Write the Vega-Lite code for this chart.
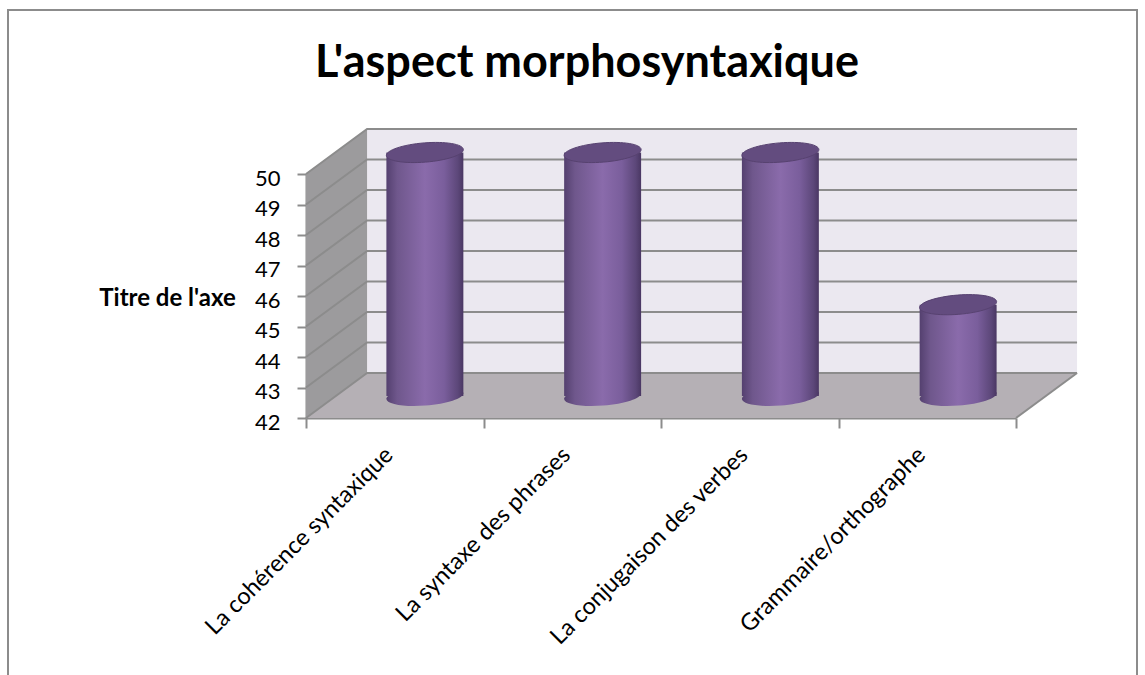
{
"$schema":"https://vega.github.io/schema/vega-lite/v6.json",
"width":710,"height":244,"autosize":"none",
"padding":{"left":306,"top":174,"right":129,"bottom":257},
"background":"white",
"config":{"view":{"stroke":null},"font":"Lato"},
"title":{"text":"L'aspect morphosyntaxique","font":"Lato","fontSize":45,"fontWeight":"bold","color":"#000000","anchor":"middle","dx":-74,"offset":-77},
"datasets":{
"scores":[
{"aspect":"La cohérence syntaxique","score":50},
{"aspect":"La syntaxe des phrases","score":50},
{"aspect":"La conjugaison des verbes","score":50},
{"aspect":"Grammaire/orthographe","score":45}],
"frame":[{"a":0,"b":1,"c":0,"d":1}],
"back":[{"a":0.344,"b":4.344,"c":43.475,"d":51.475}],
"side":[{"a":0,"c":42,"d":50},{"a":0.344,"c":43.475,"d":51.475}],
"floor":[{"a":0,"c":42,"d":42},{"a":0.344,"c":42,"d":43.475},{"a":4,"c":42,"d":43.475},{"a":4.344,"c":43.475,"d":43.475}],
"lines":[
{"g":"42","a":0,"c":42},{"g":"42","a":0.344,"c":43.475},{"g":"42","a":4.344,"c":43.475},
{"g":"43","a":0,"c":43},{"g":"43","a":0.344,"c":44.475},{"g":"43","a":4.344,"c":44.475},
{"g":"44","a":0,"c":44},{"g":"44","a":0.344,"c":45.475},{"g":"44","a":4.344,"c":45.475},
{"g":"45","a":0,"c":45},{"g":"45","a":0.344,"c":46.475},{"g":"45","a":4.344,"c":46.475},
{"g":"46","a":0,"c":46},{"g":"46","a":0.344,"c":47.475},{"g":"46","a":4.344,"c":47.475},
{"g":"47","a":0,"c":47},{"g":"47","a":0.344,"c":48.475},{"g":"47","a":4.344,"c":48.475},
{"g":"48","a":0,"c":48},{"g":"48","a":0.344,"c":49.475},{"g":"48","a":4.344,"c":49.475},
{"g":"49","a":0,"c":49},{"g":"49","a":0.344,"c":50.475},{"g":"49","a":4.344,"c":50.475},
{"g":"50","a":0,"c":50},{"g":"50","a":0.344,"c":51.475},{"g":"50","a":4.344,"c":51.475},
{"g":"edge","a":4,"c":42},{"g":"edge","a":4.344,"c":43.475}
]},
"resolve":{"scale":{"x":"independent","y":"independent"},"axis":{"x":"independent","y":"independent"}},
"layer":[
{"data":{"name":"frame"},
 "mark":{"type":"rect","fill":null,"stroke":"#8c8c8c","strokeWidth":2},
 "encoding":{
  "x":{"field":"a","type":"quantitative","axis":null,"scale":{"domain":[0,1],"range":[-298,831]}},
  "x2":{"field":"b"},
  "y":{"field":"c","type":"quantitative","axis":null,"scale":{"domain":[0,1],"range":[520,-164]}},
  "y2":{"field":"d"}}},
{"layer":[
 {"data":{"name":"back"},
  "mark":{"type":"rect","fill":"#ebe8f0"},
  "encoding":{
   "x":{"field":"a","type":"quantitative","axis":null,"scale":{"domain":[0,4],"range":[0,710]}},
   "x2":{"field":"b"},
   "y":{"field":"c","type":"quantitative","axis":null,"scale":{"domain":[42,50],"range":[244,0],"zero":false,"nice":false}},
   "y2":{"field":"d"}}},
 {"data":{"name":"floor"},
  "mark":{"type":"area","orient":"vertical","fill":"#b5b0b5"},
  "encoding":{
   "x":{"field":"a","type":"quantitative","axis":null},
   "y":{"field":"c","type":"quantitative","axis":null,"stack":null},
   "y2":{"field":"d"}}},
 {"data":{"name":"side"},
  "mark":{"type":"area","orient":"vertical","fill":"#9c9b9d"},
  "encoding":{
   "x":{"field":"a","type":"quantitative","axis":null},
   "y":{"field":"c","type":"quantitative","axis":null,"stack":null},
   "y2":{"field":"d"}}},
 {"data":{"name":"lines"},
  "mark":{"type":"line","stroke":"#8c8c8c","strokeWidth":2},
  "encoding":{
   "x":{"field":"a","type":"quantitative","axis":null},
   "y":{"field":"c","type":"quantitative","axis":null},
   "detail":{"field":"g"}}}
]},
{"data":{"name":"scores"},
 "mark":{"type":"rule","opacity":0},
 "encoding":{
  "y":{"field":"score","type":"quantitative",
   "scale":{"domain":[42,50],"range":[244,0],"zero":false,"nice":false},
   "axis":{"values":[42,43,44,45,46,47,48,49,50],"format":"d","title":"Titre de l'axe","titleAngle":0,"titleFontSize":24,"titleFontWeight":"bold","titleFont":"Lato","titleColor":"#000000","titleX":-139,"titleY":124,"titleAlign":"center","titleBaseline":"middle","labelFontSize":22,"labelColor":"#000000","labelPadding":17,"labelOffset":4,"tickSize":9,"tickColor":"#8c8c8c","tickWidth":2,"domainColor":"#8c8c8c","domainWidth":2,"grid":false}}}},
{"data":{"name":"scores"},
 "mark":{"type":"rule","opacity":0},
 "encoding":{
  "x":{"field":"aspect","type":"nominal","sort":null,"title":null,
   "scale":{"type":"band","range":[0,710],"paddingInner":0,"paddingOuter":0},
   "axis":{"tickBand":"extent","labelAngle":-45,"labelAlign":"right","labelBaseline":"middle","labelFontSize":23.5,"labelColor":"#000000","labelPadding":23,"labelOffset":-6,"labelLimit":500,"tickSize":10,"tickColor":"#8c8c8c","tickWidth":2,"domainColor":"#8c8c8c","domainWidth":2}}}},
{"data":{"name":"scores"},
 "encoding":{
  "x":{"field":"aspect","type":"nominal","sort":null,"axis":null,
   "scale":{"type":"band","range":[30,741],"paddingInner":0.567,"paddingOuter":0.2835}},
  "y":{"field":"score","type":"quantitative","axis":null,"scale":{"domain":[42,50],"range":[222,-21.5],"zero":false,"nice":false}}},
 "layer":[
 {"mark":{"type":"point","filled":true,"opacity":1,"size":5929,"shape":"M-1,0.08A1.003,0.25,-4.6,1,1,1,-0.08A1.003,0.25,-4.6,1,1,-1,0.08Z",
   "fill":{"gradient":"linear","x1":0,"x2":1,"y1":0,"y2":0,"stops":[{"offset":0,"color":"#54406f"},{"offset":0.14,"color":"#6f578c"},{"offset":0.5,"color":"#8a6bab"},{"offset":0.75,"color":"#7a5e9c"},{"offset":0.93,"color":"#5c4779"},{"offset":1,"color":"#4a3763"}]}},
  "encoding":{"y":{"datum":42,"type":"quantitative"}}},
 {"mark":{"type":"bar",
   "fill":{"gradient":"linear","x1":0,"x2":1,"y1":0,"y2":0,"stops":[{"offset":0,"color":"#54406f"},{"offset":0.14,"color":"#6f578c"},{"offset":0.5,"color":"#8a6bab"},{"offset":0.75,"color":"#7a5e9c"},{"offset":0.93,"color":"#5c4779"},{"offset":1,"color":"#4a3763"}]}},
  "encoding":{"y2":{"datum":42}}},
 {"mark":{"type":"point","filled":true,"opacity":1,"size":5929,"fill":"#634c7f","stroke":"#574270","strokeWidth":1,"shape":"M-1,0.08A1.003,0.25,-4.6,1,1,1,-0.08A1.003,0.25,-4.6,1,1,-1,0.08Z"}}
 ]}
]
}
